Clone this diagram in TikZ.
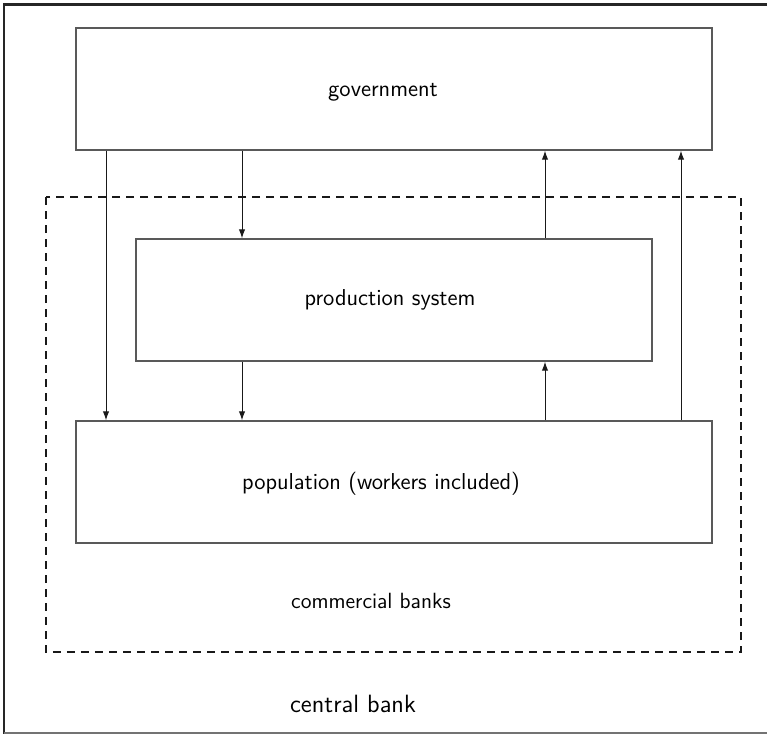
\documentclass[tikz,border=0pt]{standalone}
\usetikzlibrary{arrows.meta}
\begin{document}
\begin{tikzpicture}[x=0.5pt,y=-0.5pt,
  box/.style={draw=black!65, line width=0.7pt, minimum width=318pt, minimum height=61pt, inner sep=0pt},
  arr/.style={draw=black!90, line width=0.5pt, -{Latex[length=4.5pt,width=3.2pt]}},
  lab/.style={font=\sffamily\fontsize{11.5}{13}\selectfont, inner sep=0pt}]
\useasboundingbox (0,0) rectangle (767,734);
% outer frame (central bank)
\draw[black!85, line width=1.1pt] (4,734) -- (4,4.5) -- (767,4.5);
\draw[black!55, line width=1.1pt] (4,733) -- (767,733);
\node[lab, font=\sffamily\fontsize{12.5}{15}\selectfont] (cb) at (353,704) {central bank};
% commercial banks
\draw[black!90, line width=1pt, dash pattern=on 4pt off 3pt] (46,197) rectangle (741,652);
\node[lab, font=\sffamily\fontsize{11}{13}\selectfont] (comb) at (371,601) {commercial banks};
% boxes
\node[box] (gov) at (394,89) {};
\node[box, minimum width=258pt] (prod) at (394,300) {};
\node[box] (pop) at (394,482) {};
\node[lab] (govt) at ([xshift=-5.5pt,yshift=-1.5pt]gov.center) {government};
\node[lab] (prodt) at ([xshift=-2pt]prod.center) {production system};
\node[lab] (popt) at ([xshift=-6.5pt,yshift=-1pt]pop.center) {population (workers included)};
% arrow positions
\coordinate (a1) at (106,0);
\coordinate (a2) at (242,0);
\coordinate (a3) at (545,0);
\coordinate (a4) at (681,0);
\draw[arr] (gov.south -| a1) -- (pop.north -| a1);
\draw[arr] (gov.south -| a2) -- (prod.north -| a2);
\draw[arr] (prod.south -| a2) -- (pop.north -| a2);
\draw[arr] (prod.north -| a3) -- (gov.south -| a3);
\draw[arr] (pop.north -| a3) -- (prod.south -| a3);
\draw[arr] (pop.north -| a4) -- (gov.south -| a4);
\end{tikzpicture}
\end{document}
